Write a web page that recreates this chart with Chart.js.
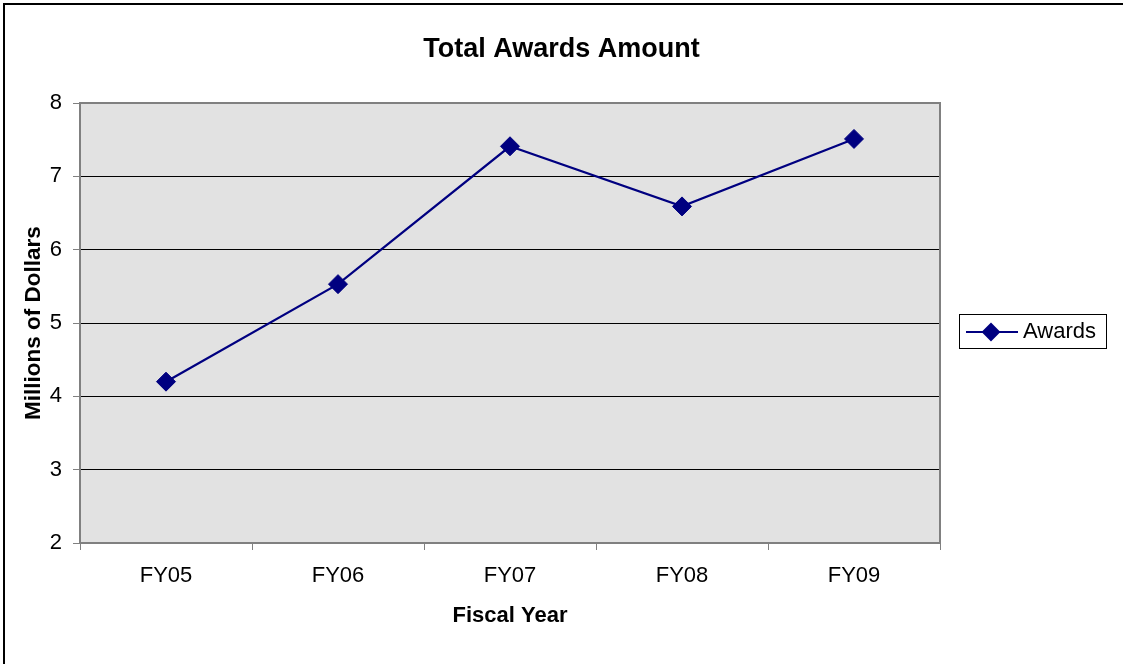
<!DOCTYPE html>
<html>
<head>
<meta charset="utf-8">
<title>Total Awards Amount</title>
<script src="https://cdn.jsdelivr.net/npm/chart.js@4.4.1/dist/chart.umd.min.js"></script>
<style>
  html, body { margin: 0; padding: 0; background: #fff; }
  #chart { display: block; }
</style>
</head>
<body>
<canvas id="chart" width="1123" height="664"></canvas>
<script>
// Chart data
const fiscalYears = ['FY05', 'FY06', 'FY07', 'FY08', 'FY09'];
const awards = [4.2, 5.53, 7.41, 6.59, 7.51];
const yTicks = [2, 3, 4, 5, 6, 7, 8];

const FONT = 'Arial, "Liberation Sans", sans-serif';
const NAVY = '#000080';

// Grey plot area, frame and outer border
const plotFrame = {
    id: 'plotFrame',
    beforeDraw(chart) {
        const { ctx, chartArea: a } = chart;
        ctx.save();
        ctx.fillStyle = '#fff';
        ctx.fillRect(0, 0, chart.width, chart.height);
        ctx.fillStyle = '#000';
        ctx.fillRect(3, 3, chart.width, 2);
        ctx.fillRect(3, 3, 2, chart.height);
        ctx.fillStyle = '#e2e2e2';
        ctx.fillRect(a.left, a.top, a.right - a.left, a.bottom - a.top);
        ctx.restore();
    },
    beforeDatasetsDraw(chart) {
        const { ctx, chartArea: a } = chart;
        ctx.save();
        ctx.strokeStyle = '#808080';
        ctx.lineWidth = 2;
        ctx.strokeRect(a.left, a.top, a.right - a.left, a.bottom - a.top);
        ctx.restore();
    }
};

// Legend box: line with diamond marker, like the spreadsheet legend
const sideLegend = {
    id: 'sideLegend',
    afterDraw(chart) {
        const { ctx, chartArea: a } = chart;
        const ds = chart.data.datasets[0];
        const x = a.right + 19;
        const cy = (a.top + a.bottom) / 2 + 8;
        ctx.save();
        ctx.strokeStyle = '#000';
        ctx.lineWidth = 1;
        ctx.strokeRect(x + 0.5, cy - 17 + 0.5, 147, 34);
        ctx.strokeStyle = NAVY;
        ctx.lineWidth = 2;
        ctx.beginPath();
        ctx.moveTo(x + 7, cy + 1);
        ctx.lineTo(x + 59, cy + 1);
        ctx.stroke();
        ctx.fillStyle = NAVY;
        Chart.helpers.drawPoint(ctx, {
            pointStyle: 'rectRot', radius: 8, borderWidth: 1
        }, x + 32, cy + 1);
        ctx.fillStyle = '#000';
        ctx.font = '22px ' + FONT;
        ctx.textBaseline = 'middle';
        ctx.fillText(ds.label, x + 64, cy + 1);
        ctx.restore();
    }
};

new Chart(document.getElementById('chart'), {
    type: 'line',
    data: {
        labels: fiscalYears,
        datasets: [{
            label: 'Awards',
            data: awards,
            borderColor: NAVY,
            backgroundColor: NAVY,
            borderWidth: 2.25,
            pointStyle: 'rectRot',
            pointRadius: 9.5,
            pointBackgroundColor: NAVY,
            pointBorderColor: NAVY,
            pointBorderWidth: 1,
            tension: 0
        }]
    },
    options: {
        responsive: false,
        animation: false,
        layout: { padding: 0 },
        plugins: {
            legend: { display: false },
            tooltip: { enabled: false },
            title: {
                display: true,
                text: 'Total Awards Amount',
                color: '#000',
                font: { family: FONT, size: 27, weight: 'bold' },
                padding: { top: 33, bottom: 37.6 }
            }
        },
        scales: {
            x: {
                offset: true,
                grid: {
                    offset: true,
                    drawOnChartArea: false,
                    drawTicks: true,
                    tickLength: 7,
                    tickColor: '#808080'
                },
                border: { display: false },
                ticks: {
                    color: '#000',
                    font: { family: FONT, size: 22 },
                    padding: 13,
                    maxRotation: 0
                },
                title: {
                    display: true,
                    text: 'Fiscal Year',
                    color: '#000',
                    font: { family: FONT, size: 22, weight: 'bold' },
                    padding: { top: 0, bottom: 35 }
                },
                afterFit(scale) { scale.height = 121; }
            },
            y: {
                min: 2,
                max: 8,
                afterBuildTicks(scale) {
                    scale.ticks = yTicks.map(v => ({ value: v }));
                },
                grid: {
                    color: ctx => (ctx.tick && (ctx.tick.value === 2 || ctx.tick.value === 8)) ? 'rgba(0,0,0,0)' : '#000',
                    lineWidth: 1,
                    tickLength: 7,
                    tickColor: '#808080'
                },
                border: { display: false },
                ticks: {
                    color: '#000',
                    font: { family: FONT, size: 22 },
                    padding: 11
                },
                title: {
                    display: true,
                    text: 'Millions of Dollars',
                    color: '#000',
                    font: { family: FONT, size: 22.5, weight: 'bold' },
                    padding: { top: 20, bottom: 0 }
                },
                afterFit(scale) { scale.width = 80; }
            },
            // empty right-hand axis that reserves the room used by the legend box
            side: {
                position: 'right',
                display: true,
                grid: { display: false },
                border: { display: false },
                ticks: { display: false },
                afterFit(scale) { scale.width = 183; }
            }
        }
    },
    plugins: [plotFrame, sideLegend]
});
</script>
</body>
</html>
